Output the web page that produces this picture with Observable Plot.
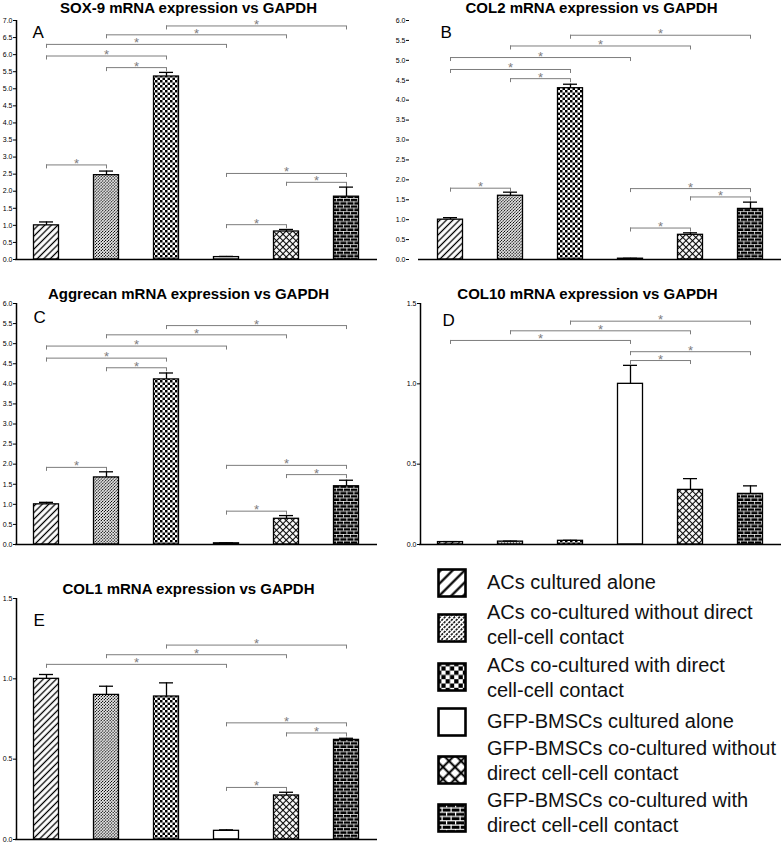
<!DOCTYPE html>
<html>
<head>
<meta charset="utf-8">
<script src="https://cdn.jsdelivr.net/npm/d3@7"></script>
<script src="https://cdn.jsdelivr.net/npm/@observablehq/plot@0.6"></script>
<style>
  html, body { margin: 0; padding: 0; background: #fff; }
  #root { position: relative; width: 782px; height: 843px; overflow: hidden; background: #fff;
          font-family: "Liberation Sans", Arial, Helvetica, sans-serif; }
  .leg-icon { position: absolute; }
  .leg-text { position: absolute; font-size: 20px; line-height: 25px; color: #111; white-space: nowrap; }
</style>
</head>
<body>
<svg width="0" height="0" style="position:absolute">
  <defs>
    <!-- bar patterns -->
    <pattern id="p0" patternUnits="userSpaceOnUse" width="4.6" height="4.6" patternTransform="rotate(45)">
      <rect width="4.6" height="4.6" fill="#fff"/>
      <line x1="2.3" y1="0" x2="2.3" y2="4.6" stroke="#000" stroke-width="1.3"/>
    </pattern>
    <pattern id="p1" patternUnits="userSpaceOnUse" width="2.1" height="2.1" patternTransform="rotate(45)">
      <rect width="2.1" height="2.1" fill="#fff"/>
      <line x1="1.05" y1="0" x2="1.05" y2="2.1" stroke="#000" stroke-width="1.0" stroke-dasharray="1.6 0.5"/>
    </pattern>
    <pattern id="p2" patternUnits="userSpaceOnUse" width="5" height="5">
      <rect width="5" height="5" fill="#fff"/>
      <rect x="0" y="0" width="2.5" height="2.5" fill="#000"/>
      <rect x="2.5" y="2.5" width="2.5" height="2.5" fill="#000"/>
    </pattern>
    <pattern id="p4" patternUnits="userSpaceOnUse" width="4.6" height="4.6" patternTransform="rotate(45)">
      <rect width="4.6" height="4.6" fill="#fff"/>
      <line x1="2.3" y1="0" x2="2.3" y2="4.6" stroke="#000" stroke-width="1.1"/>
      <line x1="0" y1="2.3" x2="4.6" y2="2.3" stroke="#000" stroke-width="1.1"/>
    </pattern>
    <pattern id="p5" patternUnits="userSpaceOnUse" width="7" height="6.6">
      <rect width="7" height="6.6" fill="#000"/>
      <line x1="0" y1="0.4" x2="7" y2="0.4" stroke="#fff" stroke-width="0.8"/>
      <line x1="0" y1="3.7" x2="7" y2="3.7" stroke="#fff" stroke-width="0.8"/>
      <line x1="0.4" y1="0" x2="0.4" y2="3.3" stroke="#fff" stroke-width="0.8"/>
      <line x1="3.9" y1="3.3" x2="3.9" y2="6.6" stroke="#fff" stroke-width="0.8"/>
    </pattern>
    <!-- legend patterns -->
    <pattern id="lp0" patternUnits="userSpaceOnUse" width="8.5" height="8.5" patternTransform="rotate(45)">
      <rect width="8.5" height="8.5" fill="#fff"/>
      <line x1="4.25" y1="0" x2="4.25" y2="8.5" stroke="#000" stroke-width="2.2"/>
    </pattern>
    <pattern id="lp1" patternUnits="userSpaceOnUse" width="3.4" height="3.4" patternTransform="rotate(45)">
      <rect width="3.4" height="3.4" fill="#fff"/>
      <line x1="1.7" y1="0" x2="1.7" y2="3.4" stroke="#000" stroke-width="1.5" stroke-dasharray="2.4 1"/>
    </pattern>
    <pattern id="lp2" patternUnits="userSpaceOnUse" width="8.6" height="8.6" x="0" y="0">
      <rect width="8.6" height="8.6" fill="#fff"/>
      <rect x="0" y="0" width="4.3" height="4.3" fill="#000"/>
      <rect x="4.3" y="4.3" width="4.3" height="4.3" fill="#000"/>
    </pattern>
    <pattern id="lp4" patternUnits="userSpaceOnUse" width="8.5" height="8.5" patternTransform="rotate(45)">
      <rect width="8.5" height="8.5" fill="#fff"/>
      <line x1="4.25" y1="0" x2="4.25" y2="8.5" stroke="#000" stroke-width="2"/>
      <line x1="0" y1="4.25" x2="8.5" y2="4.25" stroke="#000" stroke-width="2"/>
    </pattern>
    <pattern id="lp5" patternUnits="userSpaceOnUse" width="9" height="8.6">
      <rect width="9" height="8.6" fill="#000"/>
      <line x1="0" y1="0.6" x2="9" y2="0.6" stroke="#fff" stroke-width="1.2"/>
      <line x1="0" y1="4.9" x2="9" y2="4.9" stroke="#fff" stroke-width="1.2"/>
      <line x1="0.6" y1="0" x2="0.6" y2="4.3" stroke="#fff" stroke-width="1.2"/>
      <line x1="5.1" y1="4.3" x2="5.1" y2="8.6" stroke="#fff" stroke-width="1.2"/>
    </pattern>
  </defs>
</svg>
<div id="root"></div>
<script>
// ---------------- data ----------------
const groups = [
  "ACs cultured alone",
  "ACs co-cultured without direct cell-cell contact",
  "ACs co-cultured with direct cell-cell contact",
  "GFP-BMSCs cultured alone",
  "GFP-BMSCs co-cultured without direct cell-cell contact",
  "GFP-BMSCs co-cultured with direct cell-cell contact"
];
const legendLines = [
  ["ACs cultured alone"],
  ["ACs co-cultured without direct", "cell-cell contact"],
  ["ACs co-cultured with direct", "cell-cell contact"],
  ["GFP-BMSCs cultured alone"],
  ["GFP-BMSCs co-cultured without", "direct cell-cell contact"],
  ["GFP-BMSCs co-cultured with", "direct cell-cell contact"]
];
const barFills = ["url(#p0)", "url(#p1)", "url(#p2)", "#ffffff", "url(#p4)", "url(#p5)"];
const legendFills = ["url(#lp0)", "url(#lp1)", "url(#lp2)", "#ffffff", "url(#lp4)", "url(#lp5)"];

const sox9     = [1.00, 2.47, 5.36, 0.07, 0.82, 1.84];
const sox9Err  = [0.10, 0.12, 0.12, 0.02, 0.06, 0.28];
const col2     = [1.00, 1.60, 4.30, 0.02, 0.62, 1.27];
const col2Err  = [0.05, 0.09, 0.10, 0.01, 0.05, 0.17];
const aggrecan    = [1.00, 1.67, 4.11, 0.03, 0.64, 1.45];
const aggrecanErr = [0.05, 0.14, 0.16, 0.01, 0.08, 0.15];
const col10    = [0.015, 0.018, 0.023, 1.00, 0.34, 0.315];
const col10Err = [0.003, 0.003, 0.003, 0.115, 0.07, 0.05];
const col1     = [1.00, 0.90, 0.89, 0.054, 0.274, 0.62];
const col1Err  = [0.027, 0.054, 0.085, 0.006, 0.02, 0.01];

// significance brackets: [from group, to group, level]
const sox9Sig = [[2,5,6.84],[1,4,6.58],[0,3,6.30],[0,2,5.96],[1,2,5.62],[0,1,2.77],[3,5,2.52],[4,5,2.26],[3,4,1.02]];
const col2Sig = [[2,5,5.63],[1,4,5.36],[0,3,5.07],[0,2,4.77],[1,2,4.54],[0,1,1.79],[3,5,1.78],[4,5,1.57],[3,4,0.79]];
const aggrecanSig = [[2,5,5.45],[1,4,5.22],[0,3,4.94],[0,2,4.64],[1,2,4.40],[0,1,1.92],[3,5,1.97],[4,5,1.74],[3,4,0.83]];
const col10Sig = [[2,5,1.39],[1,4,1.33],[0,3,1.27],[3,5,1.20],[3,4,1.145]];
const col1Sig  = [[2,5,1.21],[1,4,1.15],[0,3,1.09],[3,5,0.726],[4,5,0.663],[3,4,0.324]];

const ticks7 = d3.range(0, 7.001, 0.5);
const ticks6 = d3.range(0, 6.001, 0.5);
const ticks15 = [0, 0.5, 1.0, 1.5];

// ---------------- drawing ----------------
const FONT = "'Liberation Sans', Arial, Helvetica, sans-serif";
const GRAY = "#7d7d7d";
const root = document.getElementById("root");

function panel(o) {
  const rows = o.values.map((v, i) => ({i, v, e: o.errs[i], fill: barFills[i]}));
  const sig = o.sig.map(([a, b, y]) => ({a, b, y}));
  const ends = sig.flatMap(d => [{x: d.a, y: d.y}, {x: d.b, y: d.y}]);
  const marks = [
    Plot.rect(rows, {x1: "i", x2: d => d.i + 1, y1: 0, y2: "v", insetLeft: 17.5, insetRight: 17.5,
      fill: "fill", stroke: "#000", strokeWidth: 1.3}),
    Plot.ruleX(rows, {x: d => d.i + 0.5, y1: "v", y2: d => d.v + d.e, stroke: "#000", strokeWidth: 1.3}),
    Plot.ruleY(rows, {x1: d => d.i + 0.5, x2: d => d.i + 0.5, y: d => d.v + d.e,
      insetLeft: -7, insetRight: -7, stroke: "#000", strokeWidth: 1.3}),
    Plot.ruleY(sig, {x1: d => d.a + 0.5, x2: d => d.b + 0.5, y: "y", stroke: GRAY, strokeWidth: 1}),
    Plot.ruleX(ends, {x: d => d.x + 0.5, y1: "y", y2: "y", insetTop: 0, insetBottom: -4, stroke: GRAY, strokeWidth: 1}),
    Plot.text(sig, {x: d => (d.a + d.b) / 2 + 0.5, y: "y", text: () => "*", lineAnchor: "bottom",
      dy: 3, fontSize: 13, fill: GRAY, fontFamily: FONT}),
    Plot.ruleY([0], {stroke: "#000", strokeWidth: 1.5, insetLeft: o.xLineInset ?? -1, insetRight: -1}),
    Plot.axisY({ticks: o.ticks, tickFormat: d3.format(".1f"), tickSize: 3, tickPadding: 1,
      fontSize: 7, label: null, dx: o.axisDx ?? 0, strokeWidth: 1}),
    Plot.text([o.title], {text: d => d, frameAnchor: "top", dx: o.titleDx, dy: o.titleDy, lineAnchor: "bottom",
      fontWeight: "bold", fontSize: 15, fill: "#000", fontFamily: FONT}),
    Plot.text([o.letter], {text: d => d, frameAnchor: "top-left", dx: o.letterDx, dy: o.letterDy, lineAnchor: "top",
      textAnchor: "start", fontSize: 17, fill: "#000", fontFamily: FONT})
  ];
  if (o.yLine) marks.push(Plot.ruleX([0], {stroke: "#000", strokeWidth: 1.5}));
  const svg = Plot.plot({
    width: o.width, height: o.height,
    marginLeft: o.mL, marginRight: o.mR, marginTop: o.mT, marginBottom: o.mB,
    x: {domain: [0, 6], axis: null},
    y: {domain: o.domain, axis: null},
    color: {type: "identity"},
    style: {fontFamily: FONT, background: "transparent", overflow: "visible"},
    marks
  });
  svg.style.position = "absolute";
  svg.style.left = o.left + "px";
  svg.style.top = o.top + "px";
  root.appendChild(svg);
}

panel({values: sox9, errs: sox9Err, sig: sox9Sig, domain: [0, 7], ticks: ticks7,
  title: "SOX-9 mRNA expression vs GAPDH", letter: "A",
  left: 0, top: 0, width: 390, height: 265, mL: 16, mR: 14, mT: 20, mB: 6,
  titleDx: -8, titleDy: -8, letterDx: 16, letterDy: 5, yLine: true});

panel({values: col2, errs: col2Err, sig: col2Sig, domain: [0, 6], ticks: ticks6,
  title: "COL2 mRNA expression vs GAPDH", letter: "B",
  left: 390, top: 0, width: 392, height: 265, mL: 30, mR: 2, mT: 20, mB: 6,
  titleDx: -9, titleDy: -8, letterDx: 20, letterDy: 5, yLine: false, axisDx: -11, xLineInset: -2});

panel({values: aggrecan, errs: aggrecanErr, sig: aggrecanSig, domain: [0, 6], ticks: ticks6,
  title: "Aggrecan mRNA expression vs GAPDH", letter: "C",
  left: 0, top: 270, width: 390, height: 280, mL: 16, mR: 14, mT: 33, mB: 6,
  titleDx: -8, titleDy: -5, letterDx: 17, letterDy: 7, yLine: true});

panel({values: col10, errs: col10Err, sig: col10Sig, domain: [0, 1.5], ticks: ticks15,
  title: "COL10 mRNA expression vs GAPDH", letter: "D",
  left: 390, top: 270, width: 392, height: 280, mL: 30, mR: 2, mT: 33, mB: 6,
  titleDx: -13, titleDy: -5, letterDx: 22, letterDy: 10, yLine: true});

panel({values: col1, errs: col1Err, sig: col1Sig, domain: [0, 1.5], ticks: ticks15,
  title: "COL1 mRNA expression vs GAPDH", letter: "E",
  left: 0, top: 550, width: 390, height: 293, mL: 16, mR: 14, mT: 48, mB: 4,
  titleDx: -8, titleDy: -5, letterDx: 17, letterDy: 15, yLine: true});

// ---------------- legend ----------------
const legendIconTops = [568, 613, 662, 707, 755, 803];
const legendTextTops = [569.5, 599.5, 652.5, 708.5, 735.5, 787.5];
legendLines.forEach((lines, i) => {
  const ns = "http://www.w3.org/2000/svg";
  const icon = document.createElementNS(ns, "svg");
  icon.setAttribute("width", 31); icon.setAttribute("height", 31);
  icon.setAttribute("class", "leg-icon");
  icon.style.left = "437px"; icon.style.top = legendIconTops[i] + "px";
  const r = document.createElementNS(ns, "rect");
  r.setAttribute("x", 1.5); r.setAttribute("y", 1.5); r.setAttribute("width", 27); r.setAttribute("height", 27);
  r.setAttribute("fill", legendFills[i]); r.setAttribute("stroke", "#000"); r.setAttribute("stroke-width", 2.6);
  icon.appendChild(r);
  root.appendChild(icon);
  const t = document.createElement("div");
  t.className = "leg-text";
  t.style.left = "487px"; t.style.top = legendTextTops[i] + "px";
  t.innerHTML = lines.join("<br>");
  t.title = groups[i];
  root.appendChild(t);
});
</script>
</body>
</html>
